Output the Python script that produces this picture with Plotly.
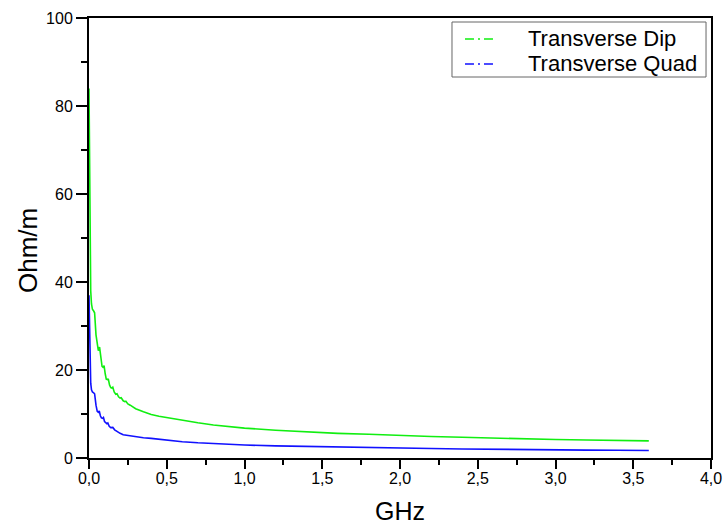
import plotly.graph_objects as go

# ---- data ----
freq_dip = [0.0, 0.002, 0.004, 0.007, 0.011, 0.016, 0.022, 0.03, 0.036, 0.045, 0.055, 0.06,
            0.068, 0.075, 0.084, 0.09, 0.097, 0.104, 0.111, 0.118, 0.124, 0.132, 0.14, 0.147,
            0.153, 0.162, 0.172, 0.18, 0.19, 0.2, 0.207, 0.22, 0.23, 0.237, 0.25, 0.265, 0.28,
            0.3, 0.35, 0.4, 0.45, 0.5, 0.6, 0.7, 0.8, 0.9, 1.0, 1.2, 1.4, 1.6, 1.8, 2.0, 2.2,
            2.4, 2.6, 2.8, 3.0, 3.2, 3.4, 3.6]
z_dip = [84, 70, 55, 45, 38, 35, 33.8, 33.4, 33.0, 28, 24.8, 24.4, 25.2, 23, 20.8, 20.6, 21.0,
         19.2, 17.9, 17.8, 18.0, 16.6, 16.0, 15.9, 16.1, 15.0, 14.5, 14.6, 13.9, 13.6, 13.7,
         13.0, 12.8, 12.9, 12.3, 12.0, 11.6, 11.2, 10.5, 9.9, 9.5, 9.2, 8.5, 8.0, 7.5, 7.1,
         6.8, 6.3, 5.9, 5.6, 5.4, 5.1, 4.9, 4.7, 4.5, 4.4, 4.2, 4.1, 4.0, 3.9]

freq_quad = [0.0, 0.002, 0.004, 0.007, 0.011, 0.016, 0.022, 0.03, 0.036, 0.045, 0.053, 0.06,
             0.066, 0.073, 0.08, 0.087, 0.093, 0.1, 0.108, 0.115, 0.121, 0.13, 0.14, 0.147,
             0.153, 0.165, 0.18, 0.2, 0.22, 0.25, 0.3, 0.35, 0.4, 0.5, 0.6, 0.7, 0.8, 0.9,
             1.0, 1.2, 1.4, 1.6, 1.8, 2.0, 2.2, 2.4, 2.6, 2.8, 3.0, 3.2, 3.4, 3.6]
z_quad = [37, 32, 27, 21, 17, 15.5, 15.0, 14.8, 14.6, 12, 10.6, 10.4, 10.7, 9.6, 9.1, 9.0, 9.2,
          8.3, 7.9, 7.8, 7.95, 7.2, 6.9, 6.85, 6.95, 6.4, 6.0, 5.6, 5.3, 5.1, 4.8, 4.6, 4.45,
          4.0, 3.7, 3.45, 3.25, 3.1, 2.95, 2.75, 2.6, 2.45, 2.35, 2.25, 2.15, 2.05, 1.95, 1.9,
          1.85, 1.8, 1.75, 1.7]

series_names = ["Transverse Dip", "Transverse Quad"]
series_colors = ["#11ee11", "#1111ff"]

x_tick_vals = [0.0, 0.5, 1.0, 1.5, 2.0, 2.5, 3.0, 3.5, 4.0]
x_tick_text = ["0,0", "0,5", "1,0", "1,5", "2,0", "2,5", "3,0", "3,5", "4,0"]
y_tick_vals = [0, 20, 40, 60, 80, 100]
y_tick_text = ["0", "20", "40", "60", "80", "100"]

x_title = "GHz"
y_title = "Ohm/m"

FONT = "Arial, Liberation Sans, sans-serif"

fig = go.Figure()
for xs, ys, name, col in [(freq_dip, z_dip, series_names[0], series_colors[0]),
                          (freq_quad, z_quad, series_names[1], series_colors[1])]:
    fig.add_trace(go.Scatter(x=xs, y=ys, mode="lines", name=name,
                             line=dict(color=col, width=1.6),
                             showlegend=False, hoverinfo="skip"))

axis_common = dict(
    showgrid=False, zeroline=False, showline=True, linecolor="black", linewidth=2,
    mirror=True, ticks="outside", tickwidth=1.5, tickcolor="black",
    tickfont=dict(family=FONT, size=16, color="black"), automargin=False,
)

# ---- legend box drawn in paper coordinates (Origin-style) ----
shapes = [dict(type="rect", xref="paper", yref="paper", x0=0.5836, x1=0.992,
               y0=0.8659, y1=0.9909, line=dict(color="#666666", width=1),
               fillcolor="white", layer="above")]
annotations = []
row_y = [0.9523, 0.8955]
for name, col, yy in zip(series_names, series_colors, row_y):
    shapes.append(dict(type="line", xref="paper", yref="paper", x0=0.6045, x1=0.6495,
                       y0=yy, y1=yy, layer="above",
                       line=dict(color=col, width=1.5, dash="9px,4px,2px,4px")))
    annotations.append(dict(xref="paper", yref="paper", x=0.7026, y=yy, xanchor="left",
                            yanchor="middle", showarrow=False, text=name,
                            font=dict(family=FONT, size=22, color="black")))
# y-axis title placed like the original
annotations.append(dict(xref="paper", yref="paper", x=-0.098, y=0.4705, xanchor="center",
                        yanchor="middle", showarrow=False, text=y_title, textangle=-90,
                        font=dict(family=FONT, size=26, color="black")))

fig.update_layout(
    width=725, height=529,
    margin=dict(l=89, r=14, t=18, b=71),
    paper_bgcolor="white", plot_bgcolor="white",
    font=dict(family=FONT, color="black"),
    showlegend=False,
    xaxis=dict(range=[0, 4.0], tickvals=x_tick_vals, ticktext=x_tick_text, ticklen=9,
               ticklabelstandoff=-4,
               minor=dict(ticks="outside", ticklen=5, tickwidth=1.5, tickcolor="black",
                          dtick=0.25),
               title=dict(text=x_title, font=dict(family=FONT, size=25), standoff=16),
               **axis_common),
    yaxis=dict(range=[0, 100], tickvals=y_tick_vals, ticktext=y_tick_text, ticklen=11,
               minor=dict(ticks="outside", ticklen=6, tickwidth=1.5, tickcolor="black",
                          dtick=10),
               **axis_common),
    shapes=shapes,
    annotations=annotations,
)

fig.write_html("out.html")
